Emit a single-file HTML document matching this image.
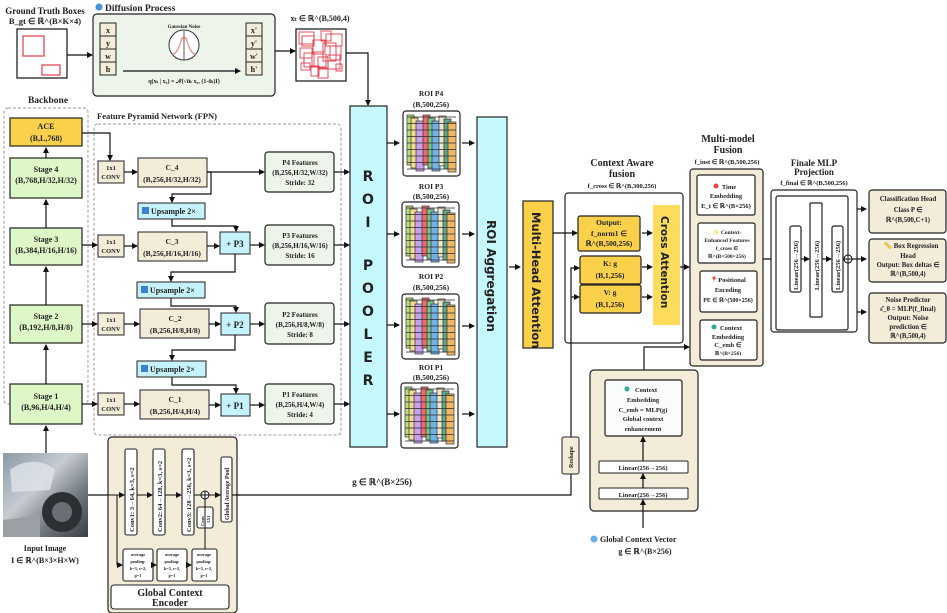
<!DOCTYPE html>
<html><head><meta charset="utf-8"><style>
html,body{margin:0;padding:0;background:#fff;}
svg{display:block;font-family:"Liberation Serif",serif;}
text{font-weight:bold;fill:#222;}
</style></head><body>
<svg width="947" height="613" viewBox="0 0 947 613" xmlns="http://www.w3.org/2000/svg">
<defs>
<marker id="ah" markerWidth="6" markerHeight="6" refX="5" refY="3" orient="auto" markerUnits="userSpaceOnUse"><path d="M0,0 L6,3 L0,6 z" fill="#111"/></marker>
<pattern id="hl" width="8" height="6.5" patternUnits="userSpaceOnUse"><line x1="0" y1="6" x2="8" y2="6" stroke="#333" stroke-width="0.8"/></pattern>
<g id="grid">
<rect x="0" y="0" width="57" height="65" rx="3" fill="#fff" stroke="#222" stroke-width="1.2"/>
<rect x="4" y="4" width="7" height="50" fill="#b8e07a" stroke="#333" stroke-width="0.7"/>
<rect x="8" y="7" width="7" height="50" fill="#f3dc8e" stroke="#333" stroke-width="0.7"/>
<rect x="13" y="10" width="8" height="50" fill="#c9a0f0" stroke="#333" stroke-width="0.7"/>
<rect x="20" y="4" width="7" height="50" fill="#f06a6a" stroke="#333" stroke-width="0.7"/>
<rect x="25" y="7" width="7" height="50" fill="#7cc48a" stroke="#333" stroke-width="0.7"/>
<rect x="29" y="10" width="8" height="50" fill="#6fb3e8" stroke="#333" stroke-width="0.7"/>
<rect x="36" y="5" width="7" height="50" fill="#eee6c8" stroke="#333" stroke-width="0.7"/>
<rect x="41" y="8" width="7" height="50" fill="#5fa88a" stroke="#333" stroke-width="0.7"/>
<rect x="45" y="11" width="8" height="50" fill="#f0b860" stroke="#333" stroke-width="0.7"/>
<rect x="4" y="4" width="49" height="57" fill="url(#hl)"/>
</g>
</defs>

<!-- Ground truth -->
<text x="45" y="14" font-size="9" text-anchor="middle">Ground Truth Boxes</text>
<text x="45" y="24" font-size="8.5" text-anchor="middle">B_gt ∈ ℝ^(B×K×4)</text>
<rect x="17" y="29" width="50" height="49" fill="#fff" stroke="#222" stroke-width="1.3"/>
<rect x="23" y="36" width="21" height="20" fill="none" stroke="#e23b4a" stroke-width="1.2"/>
<rect x="42" y="65" width="18" height="10" fill="none" stroke="#e23b4a" stroke-width="1.2"/>
<line x1="67" y1="55" x2="92" y2="55" stroke="#111" stroke-width="1.2" marker-end="url(#ah)"/>

<!-- Diffusion -->
<circle cx="99" cy="7" r="3.5" fill="#4a90d9"/>
<text x="105" y="11" font-size="9.5">Diffusion Process</text>
<rect x="93" y="14" width="182" height="82" rx="4" fill="#edf5ea" stroke="#222" stroke-width="1.2"/>
<g font-size="8" text-anchor="middle">
<rect x="100" y="23" width="16" height="13" fill="#f2ecd9" stroke="#222"/><text x="108" y="33">x</text>
<rect x="100" y="36" width="16" height="13" fill="#f2ecd9" stroke="#222"/><text x="108" y="46">y</text>
<rect x="100" y="49" width="16" height="13" fill="#f2ecd9" stroke="#222"/><text x="108" y="59">w</text>
<rect x="100" y="62" width="16" height="13" fill="#f2ecd9" stroke="#222"/><text x="108" y="72">h</text>
<rect x="246" y="23" width="16" height="13" fill="#f2ecd9" stroke="#222"/><text x="254" y="33">x'</text>
<rect x="246" y="36" width="16" height="13" fill="#f2ecd9" stroke="#222"/><text x="254" y="46">y'</text>
<rect x="246" y="49" width="16" height="13" fill="#f2ecd9" stroke="#222"/><text x="254" y="59">w'</text>
<rect x="246" y="62" width="16" height="13" fill="#f2ecd9" stroke="#222"/><text x="254" y="72">h'</text>
</g>
<text x="184" y="28" font-size="5" text-anchor="middle" font-weight="normal">Gaussian Noise</text>
<circle cx="184" cy="45" r="15" fill="#fff" stroke="#333"/>
<line x1="184" y1="31" x2="184" y2="60" stroke="#333" stroke-width="0.8"/>
<path d="M172,54 C180,54 180,37 184,37 C188,37 188,54 196,54" fill="none" stroke="#e66" stroke-width="0.9"/>
<line x1="123" y1="71" x2="240" y2="71" stroke="#111" stroke-width="1.2" marker-end="url(#ah)"/>
<text x="184" y="83" font-size="6" text-anchor="middle">q(xₜ | x₀) = 𝒩(√ᾱₜ x₀, (1-ᾱₜ)I)</text>
<line x1="275" y1="51" x2="295" y2="51" stroke="#111" stroke-width="1.2" marker-end="url(#ah)"/>

<!-- xt -->
<text x="320" y="21" font-size="8" text-anchor="middle">xₜ ∈ ℝ^(B,500,4)</text>
<rect x="296" y="29" width="50" height="52" fill="#fff" stroke="#222" stroke-width="1.3"/>
<g fill="none" stroke="#e23b4a" stroke-width="0.9">
<rect x="299" y="32" width="15" height="12"/><rect x="302" y="36" width="12" height="10"/><rect x="321" y="31" width="10" height="10"/><rect x="326" y="34" width="16" height="12"/>
<rect x="313" y="40" width="12" height="12"/><rect x="323" y="43" width="13" height="18"/><rect x="300" y="48" width="12" height="10"/><rect x="330" y="46" width="11" height="14"/>
<rect x="304" y="53" width="10" height="14"/><rect x="312" y="54" width="14" height="13"/><rect x="318" y="57" width="10" height="12"/><rect x="328" y="55" width="12" height="14"/>
<rect x="301" y="63" width="9" height="7"/><rect x="311" y="66" width="8" height="10"/><rect x="318" y="68" width="10" height="10"/><rect x="336" y="64" width="6" height="7"/>
</g>
<polyline points="346,53 368,53 368,105" fill="none" stroke="#111" stroke-width="1.2" marker-end="url(#ah)"/>

<!-- Backbone -->
<text x="48" y="103" font-size="9.5" text-anchor="middle">Backbone</text>
<rect x="4" y="108" width="84" height="296" rx="4" fill="none" stroke="#999" stroke-dasharray="3,2"/>
<g font-size="8" text-anchor="middle">
<rect x="10" y="118" width="72" height="28" fill="#fbd14b" stroke="#222" stroke-width="1.2"/><text x="46" y="129">ACE</text><text x="46" y="141">(B,L,768)</text>
<rect x="10" y="158" width="72" height="40" fill="#ddf8c6" stroke="#222" stroke-width="1.2"/><text x="46" y="172">Stage 4</text><text x="46" y="183">(B,768,H/32,H/32)</text>
<rect x="10" y="228" width="72" height="37" fill="#ddf8c6" stroke="#222" stroke-width="1.2"/><text x="46" y="242">Stage 3</text><text x="46" y="253">(B,384,H/16,H/16)</text>
<rect x="10" y="305" width="72" height="38" fill="#ddf8c6" stroke="#222" stroke-width="1.2"/><text x="46" y="319">Stage 2</text><text x="46" y="330">(B,192,H/8,H/8)</text>
<rect x="10" y="384" width="72" height="40" fill="#ddf8c6" stroke="#222" stroke-width="1.2"/><text x="46" y="399">Stage 1</text><text x="46" y="410">(B,96,H/4,H/4)</text>
</g>
<g stroke="#111" stroke-width="1.2" marker-end="url(#ah)">
<line x1="46" y1="158" x2="46" y2="148"/><line x1="46" y1="228" x2="46" y2="200"/><line x1="46" y1="305" x2="46" y2="267"/><line x1="46" y1="384" x2="46" y2="345"/><line x1="46" y1="453" x2="46" y2="426"/>
</g>

<!-- FPN -->
<text x="97" y="119" font-size="8.5">Feature Pyramid Network (FPN)</text>
<rect x="94" y="124" width="247" height="311" rx="4" fill="none" stroke="#999" stroke-dasharray="3,2"/>
<g font-size="6.5" text-anchor="middle">
<rect x="98" y="161" width="26" height="22" fill="#f2ecd9" stroke="#222"/><text x="111" y="170">1x1</text><text x="111" y="179">CONV</text>
<rect x="98" y="235" width="26" height="22" fill="#f2ecd9" stroke="#222"/><text x="111" y="244">1x1</text><text x="111" y="253">CONV</text>
<rect x="98" y="313" width="26" height="22" fill="#f2ecd9" stroke="#222"/><text x="111" y="322">1x1</text><text x="111" y="331">CONV</text>
<rect x="98" y="393" width="26" height="22" fill="#f2ecd9" stroke="#222"/><text x="111" y="402">1x1</text><text x="111" y="411">CONV</text>
</g>
<g font-size="7.5" text-anchor="middle">
<rect x="138" y="158" width="69" height="29" fill="#f2ecd9" stroke="#222"/><text x="172" y="170">C_4</text><text x="172" y="182">(B,256,H/32,H/32)</text>
<rect x="138" y="232" width="69" height="29" fill="#f2ecd9" stroke="#222"/><text x="172" y="244">C_3</text><text x="172" y="256">(B,256,H/16,H/16)</text>
<rect x="140" y="309" width="69" height="29" fill="#f2ecd9" stroke="#222"/><text x="175" y="321">C_2</text><text x="175" y="333">(B,256,H/8,H/8)</text>
<rect x="140" y="390" width="69" height="29" fill="#f2ecd9" stroke="#222"/><text x="175" y="402">C_1</text><text x="175" y="414">(B,256,H/4,H/4)</text>
</g>
<g font-size="8">
<rect x="138" y="203" width="67" height="16" fill="#c6f3fb" stroke="#222"/><rect x="142" y="207" width="7" height="7" fill="#3d7fd0"/><text x="151" y="214">Upsample 2×</text>
<rect x="137" y="282" width="68" height="16" fill="#c6f3fb" stroke="#222"/><rect x="141" y="286" width="7" height="7" fill="#3d7fd0"/><text x="150" y="293">Upsample 2×</text>
<rect x="137" y="361" width="69" height="16" fill="#c6f3fb" stroke="#222"/><rect x="141" y="365" width="7" height="7" fill="#3d7fd0"/><text x="150" y="372">Upsample 2×</text>
</g>
<g font-size="9" text-anchor="middle">
<rect x="220" y="232" width="30" height="22" fill="#c6f3fb" stroke="#222"/><text x="235" y="247">+ P3</text>
<rect x="221" y="313" width="29" height="22" fill="#c6f3fb" stroke="#222"/><text x="235" y="328">+ P2</text>
<rect x="221" y="394" width="29" height="22" fill="#c6f3fb" stroke="#222"/><text x="235" y="409">+ P1</text>
</g>
<g font-size="7" text-anchor="middle">
<rect x="265" y="152" width="69" height="40" rx="3" fill="#edf5ea" stroke="#222" stroke-width="1.2"/><text x="300" y="165">P4  Features</text><text x="300" y="175">(B,256,H/32,W/32)</text><text x="300" y="185">Stride: 32</text>
<rect x="265" y="225" width="69" height="40" rx="3" fill="#edf5ea" stroke="#222" stroke-width="1.2"/><text x="300" y="238">P3  Features</text><text x="300" y="248">(B,256,H/16,W/16)</text><text x="300" y="258">Stride: 16</text>
<rect x="265" y="303" width="69" height="41" rx="3" fill="#edf5ea" stroke="#222" stroke-width="1.2"/><text x="300" y="317">P2  Features</text><text x="300" y="327">(B,256,H/8,W/8)</text><text x="300" y="337">Stride: 8</text>
<rect x="265" y="384" width="69" height="40" rx="3" fill="#edf5ea" stroke="#222" stroke-width="1.2"/><text x="300" y="397">P1  Features</text><text x="300" y="407">(B,256,H/4,W/4)</text><text x="300" y="417">Stride: 4</text>
</g>
<g stroke="#111" stroke-width="1.2" fill="none" marker-end="url(#ah)">
<polyline points="82,133 110,133 110,160"/>
<line x1="82" y1="245" x2="97" y2="245"/><line x1="82" y1="324" x2="97" y2="324"/><line x1="82" y1="404" x2="97" y2="404"/>
<line x1="124" y1="172" x2="137" y2="172"/><line x1="124" y1="246" x2="137" y2="246"/><line x1="124" y1="324" x2="139" y2="324"/><line x1="124" y1="404" x2="139" y2="404"/>
<line x1="207" y1="172" x2="264" y2="172"/>
<polyline points="207,172 211,172 211,194 172,194 172,202"/>
<polyline points="172,219 172,226 236,226 236,231"/>
<line x1="207" y1="246" x2="219" y2="246"/><line x1="250" y1="245" x2="264" y2="245"/>
<polyline points="235,254 235,272 171,272 171,281"/>
<polyline points="171,298 171,306 236,306 236,312"/>
<line x1="209" y1="324" x2="220" y2="324"/><line x1="250" y1="324" x2="264" y2="324"/>
<polyline points="235,335 235,350 172,350 172,360"/>
<polyline points="172,377 172,385 236,385 236,393"/>
<line x1="209" y1="405" x2="220" y2="405"/><line x1="250" y1="405" x2="264" y2="405"/>
<line x1="334" y1="172" x2="349" y2="172"/><line x1="334" y1="245" x2="349" y2="245"/><line x1="334" y1="324" x2="349" y2="324"/><line x1="334" y1="404" x2="349" y2="404"/>
</g>

<!-- ROI Pooler -->
<rect x="350" y="106" width="37" height="341" fill="#c6f9fd" stroke="#222" stroke-width="1.2"/>
<g font-family="'DejaVu Sans',sans-serif" font-size="14" text-anchor="middle" font-weight="bold">
<text x="368" y="181">R</text><text x="368" y="204">O</text><text x="368" y="227">I</text>
<text x="368" y="270">P</text><text x="368" y="293">O</text><text x="368" y="316">O</text><text x="368" y="339">L</text><text x="368" y="362">E</text><text x="368" y="385">R</text>
</g>
<g stroke="#111" stroke-width="1.2" marker-end="url(#ah)">
<line x1="387" y1="143" x2="399" y2="143"/><line x1="387" y1="234" x2="399" y2="234"/><line x1="387" y1="325" x2="399" y2="325"/><line x1="387" y1="414" x2="399" y2="414"/>
<line x1="462" y1="143" x2="474" y2="143"/><line x1="462" y1="234" x2="474" y2="234"/><line x1="462" y1="326" x2="474" y2="326"/><line x1="462" y1="414" x2="474" y2="414"/>
</g>
<g font-size="7.5" text-anchor="middle">
<text x="431" y="96">ROI P4</text><text x="431" y="107">(B,500,256)</text>
<text x="431" y="189">ROI P3</text><text x="431" y="199">(B,500,256)</text>
<text x="431" y="279">ROI P2</text><text x="431" y="290">(B,500,256)</text>
<text x="431" y="370">ROI P1</text><text x="431" y="380">(B,500,256)</text>
</g>
<use href="#grid" x="403" y="111"/>
<use href="#grid" x="402" y="202"/>
<use href="#grid" x="402" y="294"/>
<use href="#grid" x="401" y="383"/>

<!-- ROI Aggregation -->
<rect x="477" y="117" width="30" height="330" fill="#c6f9fd" stroke="#222" stroke-width="1.2"/>
<text transform="translate(487,220) rotate(90)" font-family="'DejaVu Sans',sans-serif" font-size="12" font-weight="bold">ROI Aggregation</text>
<line x1="509" y1="267" x2="520" y2="267" stroke="#111" stroke-width="1.2" marker-end="url(#ah)"/>
<rect x="523" y="201" width="30" height="147" fill="#fbd14b" stroke="#222" stroke-width="1.2"/>
<text transform="translate(532,212) rotate(90)" font-family="'DejaVu Sans',sans-serif" font-size="11.5" font-weight="bold">Multi-Head Attention</text>

<!-- Context aware fusion -->
<text x="622" y="166" font-size="10" text-anchor="middle">Context Aware</text>
<text x="622" y="177" font-size="10" text-anchor="middle">fusion</text>
<text x="622" y="188" font-size="6.5" text-anchor="middle">f_cross ∈ ℝ^(B,300,256)</text>
<rect x="565" y="193" width="118" height="150" rx="3" fill="#fff" stroke="#222" stroke-width="1.2"/>
<g font-size="7.5" text-anchor="middle">
<rect x="578" y="216" width="62" height="35" rx="2" fill="#fbd14b" stroke="#222" stroke-width="1.2"/><text x="609" y="225">Output:</text><text x="609" y="236">f_norm1 ∈</text><text x="609" y="246">ℝ^(B,500,256)</text>
<rect x="580" y="256" width="61" height="28" rx="2" fill="#fbd14b" stroke="#222" stroke-width="1.2"/><text x="610" y="266">K: g</text><text x="610" y="278">(B,1,256)</text>
<rect x="580" y="285" width="61" height="28" rx="2" fill="#fbd14b" stroke="#222" stroke-width="1.2"/><text x="610" y="295">V: g</text><text x="610" y="307">(B,1,256)</text>
</g>
<rect x="653" y="205" width="27" height="120" fill="#fddc5c"/>
<text transform="translate(661,216) rotate(90)" font-family="'DejaVu Sans',sans-serif" font-size="10.5" font-weight="bold">Cross Attention</text>
<g stroke="#111" stroke-width="1.2" fill="none" marker-end="url(#ah)">
<line x1="553" y1="233" x2="577" y2="233"/>
<line x1="642" y1="233" x2="652" y2="233"/><line x1="642" y1="267" x2="652" y2="267"/><line x1="642" y1="297" x2="652" y2="297"/>
<line x1="680" y1="267" x2="689" y2="267"/>
<polyline points="571,437 571,268 579,268"/>
<line x1="571" y1="297" x2="579" y2="297"/>
<polyline points="644,380 644,347 689,347"/>
</g>
<polyline points="571,474 571,495 237,495" fill="none" stroke="#111" stroke-width="1.2"/>
<line x1="88" y1="495" x2="108" y2="495" stroke="#111" stroke-width="1.2"/>
<rect x="562" y="437" width="17" height="37" rx="2" fill="#f2ecd9" stroke="#222"/>
<text transform="translate(573,468) rotate(-90)" font-size="6">Reshape</text>
<text x="382" y="485" font-size="9" text-anchor="middle">g ∈ ℝ^(B×256)</text>

<!-- Multi-model fusion -->
<text x="728" y="142" font-size="10" text-anchor="middle">Multi-model</text>
<text x="728" y="153" font-size="10" text-anchor="middle">Fusion</text>
<text x="727" y="164" font-size="6.5" text-anchor="middle">f_inst ∈ ℝ^(B,500,256)</text>
<rect x="690" y="169" width="73" height="197" rx="3" fill="#f2ecd9" stroke="#222" stroke-width="1.2"/>
<g font-size="6.5" text-anchor="middle">
<rect x="697" y="175" width="58" height="40" rx="2" fill="#fff" stroke="#222" stroke-width="1.2"/><circle cx="716" cy="186" r="2.5" fill="#e44"/><text x="729" y="189">Time</text><text x="726" y="198">Embedding</text><text x="726" y="208">E_t ∈ ℝ^(B×256)</text>
<rect x="698" y="223" width="57" height="40" rx="2" fill="#fff" stroke="#222" stroke-width="1.2"/><text x="727" y="234" font-size="5.5">✨ Context-</text><text x="727" y="242" font-size="5.5">Enhanced Features</text><text x="727" y="250" font-size="5.5">f_cross ∈</text><text x="727" y="258" font-size="5.5">ℝ^(B×500×256)</text>
<rect x="700" y="271" width="57" height="41" rx="2" fill="#fff" stroke="#222" stroke-width="1.2"/><text x="728" y="282">📍Positional</text><text x="728" y="292">Encoding</text><text x="728" y="302" font-size="6">PE ∈ ℝ^(500×256)</text>
<rect x="700" y="320" width="57" height="40" rx="2" fill="#fff" stroke="#222" stroke-width="1.2"/><circle cx="714" cy="327" r="2.5" fill="#3a9"/><text x="731" y="330">Context</text><text x="728" y="339">Embedding</text><text x="728" y="347">C_emb ∈</text><text x="728" y="355" font-size="5.5">ℝ^(B×256)</text>
</g>
<line x1="763" y1="259" x2="789" y2="259" stroke="#111" stroke-width="1.2" marker-end="url(#ah)"/>

<!-- Finale MLP -->
<text x="814" y="166" font-size="9" text-anchor="middle">Finale MLP</text>
<text x="814" y="175" font-size="9" text-anchor="middle">Projection</text>
<text x="814" y="185" font-size="6.5" text-anchor="middle">f_final ∈ ℝ^(B,500,256)</text>
<rect x="771" y="190" width="86" height="142" rx="3" fill="#fff" stroke="#222" stroke-width="1.2"/>
<rect x="776" y="196" width="72" height="134" rx="2" fill="#fff" stroke="#222" stroke-width="1.2"/>
<rect x="790" y="226" width="11" height="66" rx="2" fill="#fff" stroke="#222" stroke-width="1.2"/>
<rect x="810" y="203" width="12" height="114" rx="1" fill="#fff" stroke="#222" stroke-width="1.2"/>
<rect x="832" y="226" width="11" height="66" rx="2" fill="#fff" stroke="#222" stroke-width="1.2"/>
<g font-size="6.5">
<text transform="translate(798,290) rotate(-90)">Linear(256→256)</text>
<text transform="translate(819,290) rotate(-90)">Linear(256→256)</text>
<text transform="translate(840,290) rotate(-90)">Linear(256→256)</text>
</g>
<g stroke="#111" stroke-width="1.2" marker-end="url(#ah)">
<line x1="801" y1="259" x2="809" y2="259"/><line x1="822" y1="259" x2="831" y2="259"/>
<line x1="852" y1="259" x2="866" y2="259"/><line x1="857" y1="209" x2="866" y2="209"/><line x1="857" y1="312" x2="866" y2="312"/>
</g>
<line x1="843" y1="259" x2="848" y2="259" stroke="#111" stroke-width="1.2"/>
<circle cx="848" cy="259" r="4" fill="#fff" stroke="#111" stroke-width="1.1"/>
<line x1="844" y1="259" x2="852" y2="259" stroke="#111"/><line x1="848" y1="255" x2="848" y2="263" stroke="#111"/>

<!-- Heads -->
<g font-size="6.8" text-anchor="middle">
<rect x="869" y="190" width="77" height="43" rx="3" fill="#f2ecd9" stroke="#222" stroke-width="1.2"/><text x="908" y="201">Classification Head</text><text x="908" y="212">Class P ∈</text><text x="908" y="222">ℝ^(B,500,C+1)</text>
<rect x="869" y="239" width="77" height="43" rx="3" fill="#f2ecd9" stroke="#222" stroke-width="1.2"/><text x="911" y="248">📏 Box Regression</text><text x="908" y="258">Head</text><text x="908" y="267">Output: Box deltas ∈</text><text x="908" y="276">ℝ^(B,500,4)</text>
<rect x="869" y="293" width="77" height="50" rx="3" fill="#f2ecd9" stroke="#222" stroke-width="1.2"/><text x="908" y="302">Noise Predictor</text><text x="908" y="311">ε̂_θ = MLP(f_final)</text><text x="908" y="320">Output: Noise</text><text x="908" y="329">prediction ∈</text><text x="908" y="338">ℝ^(B,500,4)</text>
</g>

<!-- Global context vector module -->
<rect x="590" y="370" width="108" height="141" rx="4" fill="#f2ecd9" stroke="#222" stroke-width="1.2"/>
<rect x="605" y="380" width="77" height="56" rx="2" fill="#fafcfc" stroke="#222" stroke-width="1.2"/>
<g font-size="6.5" text-anchor="middle">
<circle cx="627" cy="389" r="2.5" fill="#3a9"/><text x="646" y="392">Context</text><text x="643" y="402">Embedding</text><text x="643" y="412">C_emb = MLP(g)</text><text x="643" y="421">Global context</text><text x="643" y="431">enhancement</text>
<rect x="599" y="461" width="89" height="12" rx="1" fill="#fff" stroke="#222"/><text x="643" y="470">Linear(256→256)</text>
<rect x="599" y="488" width="89" height="11" rx="1" fill="#fff" stroke="#222"/><text x="643" y="497">Linear(256→256)</text>
</g>
<g stroke="#111" stroke-width="1.2" marker-end="url(#ah)">
<line x1="643" y1="461" x2="643" y2="437"/><line x1="643" y1="488" x2="643" y2="474"/><line x1="643" y1="528" x2="643" y2="500"/>
</g>
<circle cx="594" cy="539" r="3.5" fill="#6ab0e8"/>
<text x="600" y="542" font-size="8">Global Context Vector</text>
<text x="645" y="554" font-size="8" text-anchor="middle">g ∈ ℝ^(B×256)</text>

<!-- Input image -->
<defs><linearGradient id="car" x1="0" y1="0" x2="1" y2="1"><stop offset="0" stop-color="#8a9aa8"/><stop offset="0.4" stop-color="#c7ccd2"/><stop offset="0.7" stop-color="#6f767e"/><stop offset="1" stop-color="#3b3f44"/></linearGradient></defs>
<rect x="3" y="453" width="85" height="84" fill="url(#car)"/>
<path d="M10,470 C25,458 45,460 55,470 L50,490 L12,492 z" fill="#dfe4ea" opacity="0.8"/>
<circle cx="62" cy="512" r="20" fill="#2c2f33"/><circle cx="62" cy="512" r="10" fill="#6a6f75"/>
<path d="M3,520 L40,515 L40,537 L3,537z" fill="#9aa0a6"/>
<text x="45" y="551" font-size="8" text-anchor="middle">Input Image</text>
<text x="45" y="563" font-size="8" text-anchor="middle">I ∈ ℝ^(B×3×H×W)</text>

<!-- Global Context Encoder -->
<rect x="108" y="437" width="129" height="176" rx="4" fill="#f2ecd9" stroke="#222" stroke-width="1.2"/>
<g fill="#fff" stroke="#222" stroke-width="1.1">
<rect x="125" y="449" width="12" height="86" rx="2"/><rect x="153" y="449" width="12" height="86" rx="2"/><rect x="182" y="449" width="12" height="86" rx="2"/>
<rect x="221" y="457" width="11" height="65" rx="2"/><rect x="197" y="507" width="16" height="21" rx="2"/>
<rect x="123" y="549" width="30" height="32" rx="2"/><rect x="157" y="549" width="30" height="32" rx="2"/><rect x="192" y="549" width="25" height="32" rx="2"/>
<rect x="111" y="585" width="118" height="24" rx="3"/>
</g>
<g font-size="6.5">
<text transform="translate(134,532) rotate(-90)">Conv1: 3→64, k=3, s=2</text>
<text transform="translate(162,532) rotate(-90)">Conv2: 64→128, k=3, s=2</text>
<text transform="translate(191,532) rotate(-90)">Conv3: 128→256, k=3, s=2</text>
<text transform="translate(229,520) rotate(-90)" font-size="6">Global Average Pool</text>
<text transform="translate(204,526) rotate(-90)" font-size="4.5">Conv</text>
<text transform="translate(210,523) rotate(-90)" font-size="4.5">1X1</text>
</g>
<g font-size="4.3" text-anchor="middle" font-weight="normal">
<text x="138" y="556">average</text><text x="138" y="563">pooling:</text><text x="138" y="570">k=3, s=2,</text><text x="138" y="577">p=1</text>
<text x="172" y="556">average</text><text x="172" y="563">pooling:</text><text x="172" y="570">k=3, s=2,</text><text x="172" y="577">p=1</text>
<text x="204" y="556">average</text><text x="204" y="563">pooling:</text><text x="204" y="570">k=3, s=2,</text><text x="204" y="577">p=1</text>
</g>
<text x="170" y="596" font-size="10" text-anchor="middle">Global Context</text>
<text x="170" y="606" font-size="10" text-anchor="middle">Encoder</text>
<g stroke="#111" stroke-width="1" fill="none" marker-end="url(#ah)">
<line x1="108" y1="495" x2="124" y2="495"/><line x1="137" y1="495" x2="152" y2="495"/><line x1="165" y1="495" x2="181" y2="495"/>
<line x1="209" y1="495" x2="220" y2="495"/>
<polyline points="117,495 117,565 122,565"/>
<line x1="153" y1="565" x2="156" y2="565"/><line x1="187" y1="565" x2="191" y2="565"/>
</g>
<line x1="194" y1="495" x2="201" y2="495" stroke="#111"/>
<line x1="205" y1="549" x2="205" y2="499" stroke="#111"/>
<circle cx="205" cy="495" r="4" fill="#fff" stroke="#111"/>
<line x1="201" y1="495" x2="209" y2="495" stroke="#111"/><line x1="205" y1="491" x2="205" y2="499" stroke="#111"/>
<line x1="232" y1="495" x2="240" y2="495" stroke="#111" stroke-width="1.2"/>
</svg>
</body></html>
